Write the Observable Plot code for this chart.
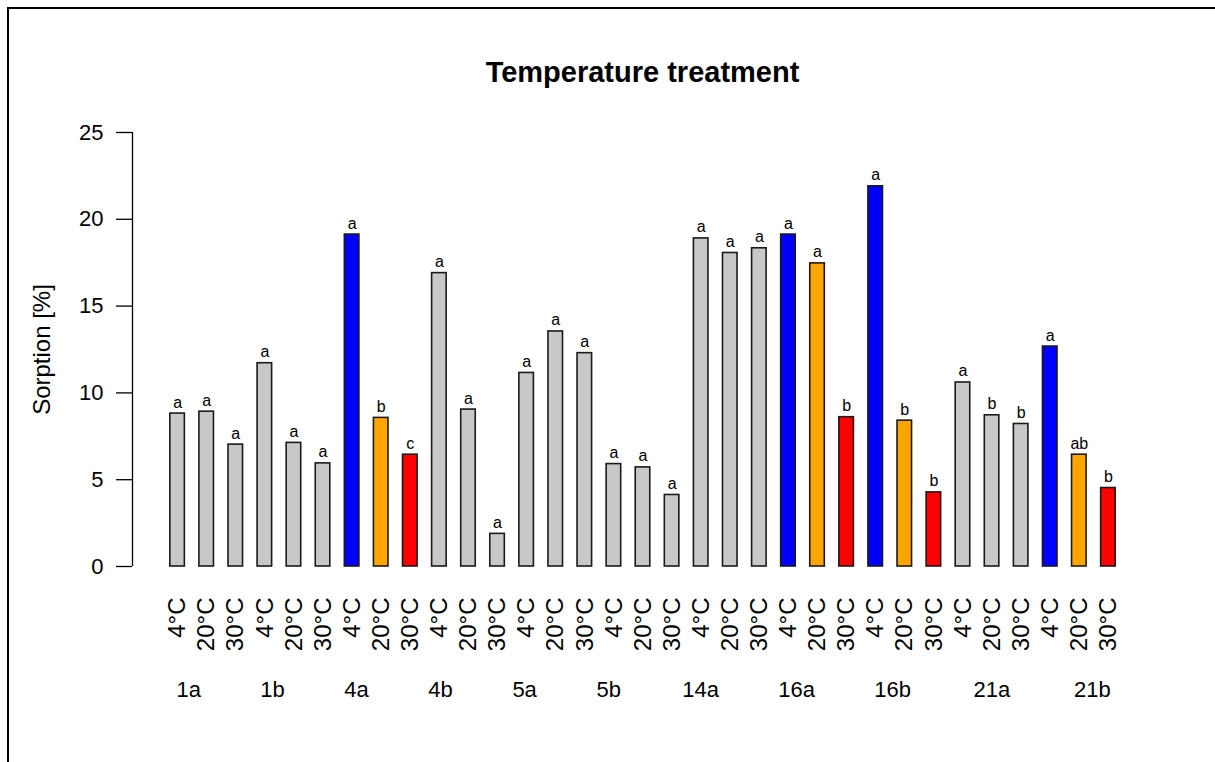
<!DOCTYPE html>
<html>
<head>
<meta charset="utf-8">
<script src="https://cdn.jsdelivr.net/npm/d3@7"></script>
<script src="https://cdn.jsdelivr.net/npm/@observablehq/plot@0.6"></script>
<style>
  html, body { margin: 0; padding: 0; background: #fff; }
  #page { position: relative; width: 1215px; height: 762px; overflow: hidden; font-family: "Liberation Sans", Arial, Helvetica, sans-serif; }
  #box { position: absolute; left: 7px; top: 7px; right: -4px; bottom: -4px; border-top: 2px solid #000; border-left: 2px solid #000; }
  #title { position: absolute; left: 132px; width: 1021px; top: 58px; text-align: center; font-weight: bold; font-size: 29px; line-height: 29px; color: #000; }
  #chart { position: absolute; left: 0; top: 100px; }
</style>
</head>
<body>
<div id="page">
  <div id="box"></div>
  <div id="title">Temperature treatment</div>
  <div id="chart"></div>
</div>
<script>
// Sorption of each sample under three storage temperatures
const samples = ["1a", "1b", "4a", "4b", "5a", "5b", "14a", "16a", "16b", "21a", "21b"];
const temperatures = ["4°C", "20°C", "30°C"];
const sorption = [
  8.81, 8.92, 7.02,
  11.71, 7.12, 5.94,
  19.12, 8.56, 6.44,
  16.90, 9.04, 1.88,
  11.15, 13.54, 12.29,
  5.90, 5.71, 4.12,
  18.90, 18.06, 18.33,
  19.12, 17.46, 8.60,
  21.90, 8.40, 4.27,
  10.60, 8.71, 8.21,
  12.67, 6.44, 4.52
];
// Compact letter display of the post-hoc test within each sample
const letters = [
  "a", "a", "a",
  "a", "a", "a",
  "a", "b", "c",
  "a", "a", "a",
  "a", "a", "a",
  "a", "a", "a",
  "a", "a", "a",
  "a", "a", "b",
  "a", "b", "b",
  "a", "b", "b",
  "a", "ab", "b"
];
// Samples where the temperature effect is shown in colour
const highlighted = ["4a", "16a", "16b", "21b"];
// Sample name positions along the bar index axis
const sampleLabelAt = [0.38, 3.26, 6.15, 9.04, 11.93, 14.82, 17.98, 21.28, 24.58, 27.99, 31.45];

const bars = sorption.map((value, i) => {
  const sample = samples[Math.floor(i / 3)];
  const temp = temperatures[i % 3];
  return {
    index: i,
    sample,
    temp,
    value,
    letter: letters[i],
    group: highlighted.includes(sample) ? temp : "other"
  };
});
const sampleLabels = samples.map((s, k) => ({name: s, at: sampleLabelAt[k]}));

const font = '"Liberation Sans", Arial, Helvetica, sans-serif';
const xDomain = [-1.55, 33.55];
const yDomain = [0, 25];
const halfBar = 0.25;

const chart = Plot.plot({
  width: 1215,
  height: 662,
  marginLeft: 132,
  marginRight: 62,
  marginTop: 32,
  marginBottom: 196,
  style: {fontFamily: font, color: "#000", background: "transparent", overflow: "visible"},
  x: {domain: xDomain, axis: null},
  y: {domain: yDomain, axis: null},
  color: {
    domain: ["other", "4°C", "20°C", "30°C"],
    range: ["#c8c8c8", "#0000ff", "#ffa500", "#ff0000"]
  },
  marks: [
    // y axis
    Plot.ruleX([xDomain[0]], {y1: yDomain[0], y2: yDomain[1], stroke: "#000", strokeWidth: 1.3}),
    Plot.axisY({
      ticks: [0, 5, 10, 15, 20, 25],
      tickSize: 16,
      tickPadding: 13,
      fontSize: 22,
      stroke: "#000",
      strokeWidth: 1.3,
      label: null
    }),
    Plot.text(["Sorption [%]"], {frameAnchor: "left", textAnchor: "middle", rotate: -90, dx: -90, fontSize: 24}),
    // bars
    Plot.rectY(bars, {
      x1: d => d.index - halfBar,
      x2: d => d.index + halfBar,
      y1: 0,
      y2: "value",
      fill: "group",
      stroke: "#1a1a1a",
      strokeWidth: 1.6
    }),
    // significance letters
    Plot.text(bars, {x: "index", y: "value", text: "letter", lineAnchor: "bottom", dy: -6, fontSize: 16}),
    // temperature labels under each bar
    Plot.text(bars, {x: "index", y: 0, text: "temp", rotate: -90, textAnchor: "end", lineAnchor: "middle", dy: 31, fontSize: 24}),
    // sample names
    Plot.text(sampleLabels, {x: "at", y: 0, text: "name", lineAnchor: "middle", dy: 123, fontSize: 22})
  ]
});

document.getElementById("chart").appendChild(chart);
</script>
</body>
</html>
